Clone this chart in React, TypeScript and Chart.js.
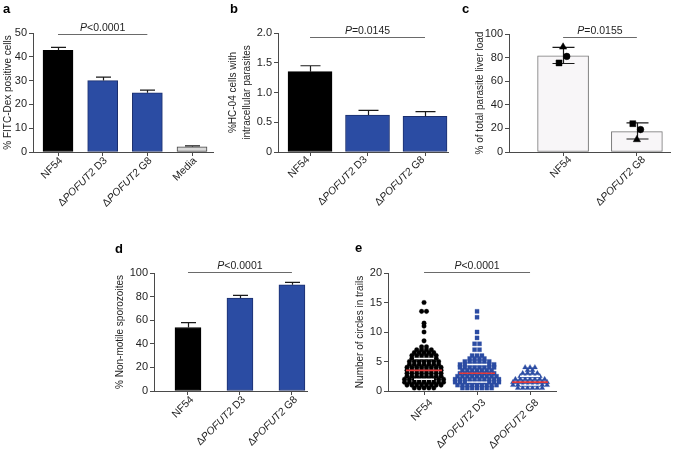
import React, { useEffect, useRef } from 'react';
import { Chart, registerables } from 'chart.js';

Chart.register(...registerables);

const FONT = '"Liberation Sans", Arial, Helvetica, sans-serif';
Chart.defaults.font.family = FONT;

const AXIS = '#4a4a4a';
const TEXT = '#1e1e1e';
const BLUE = '#2b4ca3';
const BLUE_EDGE = '#1b2f6e';
const ERR = '#1a1a1a';

// ---------- Panel a ----------
const aCategories = ['NF54', 'ΔPOFUT2 D3', 'ΔPOFUT2 G8', 'Media'];
const aValues = [42.7, 30.0, 24.9, 2.2];
const aErrorTop = [44.0, 31.5, 26.0, 2.6];
const aTicks = [0, 10, 20, 30, 40, 50];
const aTickLabels = ['0', '10', '20', '30', '40', '50'];
const aTitle = '% FITC-Dex positive cells';
const aP = 'P<0.0001';

// ---------- Panel b ----------
const bCategories = ['NF54', 'ΔPOFUT2 D3', 'ΔPOFUT2 G8'];
const bValues = [1.35, 0.62, 0.6];
const bErrorTop = [1.45, 0.7, 0.68];
const bTicks = [0, 0.5, 1.0, 1.5, 2.0];
const bTickLabels = ['0', '0.5', '1.0', '1.5', '2.0'];
const bTitle = ['%HC-04 cells with', 'intracellular parasites'];
const bP = 'P=0.0145';

// ---------- Panel c ----------
const cCategories = ['NF54', 'ΔPOFUT2 G8'];
const cValues = [81.5, 17.2];
const cErrorTop = [88.7, 24.6];
const cErrorLow = [75.0, 11.0];
const cReplicateTriangle = [89, 10.5];
const cReplicateCircle = [81, 19];
const cReplicateSquare = [75.5, 24];
const cTicks = [0, 20, 40, 60, 80, 100];
const cTickLabels = ['0', '20', '40', '60', '80', '100'];
const cTitle = '% of total parasite liver load';
const cP = 'P=0.0155';

// ---------- Panel d ----------
const dCategories = ['NF54', 'ΔPOFUT2 D3', 'ΔPOFUT2 G8'];
const dValues = [53.8, 78.8, 90.0];
const dErrorTop = [58.0, 81.0, 92.0];
const dTicks = [0, 20, 40, 60, 80, 100];
const dTickLabels = ['0', '20', '40', '60', '80', '100'];
const dTitle = '% Non-motile sporozoites';
const dP = 'P<0.0001';

// ---------- Panel e ----------
const eCategories = ['NF54', 'ΔPOFUT2 D3', 'ΔPOFUT2 G8'];
const eNF54 = [
  15, 13.5, 13.5, 11.5, 11, 10, 8.5,
  7.5, 7.5, 7, 7, 7, 7, 6.5, 6.5, 6.5, 6.5, 6.5,
  6, 6, 6, 6, 6, 6, 5.5, 5.5, 5.5, 5.5, 5.5, 5.5,
  5, 5, 5, 5, 5, 5, 5,
  4.5, 4.5, 4.5, 4.5, 4.5, 4.5, 4.5,
  4, 4, 4, 4, 4, 4, 4, 4,
  3.5, 3.5, 3.5, 3.5, 3.5, 3.5, 3.5, 3.5,
  3, 3, 3, 3, 3, 3, 3, 3,
  2.5, 2.5, 2.5, 2.5, 2.5, 2.5, 2.5, 2.5,
  2, 2, 2, 2, 2, 2, 2, 2, 2,
  1.5, 1.5, 1.5, 1.5, 1.5, 1.5, 1.5, 1.5, 1.5,
  1, 1, 1, 1, 1, 1, 1, 1,
  0.5, 0.5, 0.5, 0.5, 0.5,
];
const eD3 = [
  13.5, 12.5, 10, 9, 8, 8, 7, 7, 6, 6, 6, 5.5, 5.5, 5.5, 5.5,
  5, 5, 5, 5, 5, 5,
  4.5, 4.5, 4.5, 4.5, 4.5, 4.5, 4.5, 4.5,
  4, 4, 4, 4, 4, 4, 4, 4,
  3.5, 3.5, 3.5, 3.5, 3.5, 3.5, 3.5,
  3, 3, 3, 3, 3, 3, 3, 3,
  2.5, 2.5, 2.5, 2.5, 2.5, 2.5, 2.5, 2.5, 2.5,
  2, 2, 2, 2, 2, 2, 2, 2, 2, 2,
  1.5, 1.5, 1.5, 1.5, 1.5, 1.5, 1.5, 1.5, 1.5, 1.5,
  1, 1, 1, 1, 1, 1, 1, 1, 1,
  0.5, 0.5, 0.5, 0.5, 0.5, 0.5, 0.5,
];
const eG8 = [
  4, 4, 4, 3.5, 3.5, 3, 3, 3, 3,
  2.5, 2.5, 2.5, 2.5, 2.5,
  2, 2, 2, 2, 2, 2, 2,
  1.5, 1.5, 1.5, 1.5, 1.5, 1.5, 1.5, 1.5,
  1, 1, 1, 1, 1, 1, 1, 1,
  0.5, 0.5, 0.5, 0.5, 0.5, 0.5,
];
const eTicks = [0, 5, 10, 15, 20];
const eTickLabels = ['0', '5', '10', '15', '20'];
const eTitle = 'Number of circles in trails';
const eP = 'P<0.0001';

// ---------- layout (canvas boxes, plot areas) ----------
type Geo = {
  left: number; top: number; width: number; height: number;
  plot: { l: number; t: number; r: number; b: number };
  xMin: number; xMax: number;
  panel: string; panelPos: [number, number];
  labelOffset: [number, number];
  titlePad: number;
};

const GEO: Record<string, Geo> = {
  a: { left: 0, top: 0, width: 225, height: 230, plot: { l: 33, t: 33, r: 213, b: 152 }, xMin: -0.56, xMax: 3.47, panel: 'a', panelPos: [3, 13], labelOffset: [3, 7], titlePad: 1 },
  b: { left: 225, top: 0, width: 225, height: 230, plot: { l: 53, t: 33, r: 223, b: 152 }, xMin: -0.557, xMax: 2.4, panel: 'b', panelPos: [5, 13], labelOffset: [-2, 6], titlePad: 1 },
  c: { left: 450, top: 0, width: 225, height: 230, plot: { l: 59, t: 34, r: 223, b: 152 }, xMin: -0.733, xMax: 1.453, panel: 'c', panelPos: [12, 13], labelOffset: [7, 6], titlePad: 23 },
  d: { left: 100, top: 230, width: 220, height: 222, plot: { l: 54, t: 43, r: 207, b: 161 }, xMin: -0.654, xMax: 2.29, panel: 'd', panelPos: [15, 23], labelOffset: [4, 7], titlePad: 13 },
  e: { left: 320, top: 230, width: 250, height: 222, plot: { l: 68, t: 43, r: 236, b: 161 }, xMin: -0.68, xMax: 2.49, panel: 'e', panelPos: [35, 22], labelOffset: [7, 10], titlePad: 33 },
};

// ---------- helpers ----------
type Part = { t: string; it: boolean };

function labelParts(s: string): Part[] {
  return s.split(/(POFUT2)/).filter((p) => p.length > 0).map((p) => ({ t: p, it: p === 'POFUT2' }));
}
function pParts(s: string): Part[] {
  return [{ t: s.slice(0, 1), it: true }, { t: s.slice(1), it: false }];
}
function drawRich(ctx: CanvasRenderingContext2D, parts: Part[], size: number, align: 'right' | 'center', x: number, y: number, baseline: CanvasTextBaseline) {
  const fonts = parts.map((p) => `${p.it ? 'italic ' : ''}${size}px ${FONT}`);
  const widths = parts.map((p, i) => { ctx.font = fonts[i]; return ctx.measureText(p.t).width; });
  const total = widths.reduce((s, w) => s + w, 0);
  let cx = align === 'right' ? x - total : x - total / 2;
  ctx.textAlign = 'left';
  ctx.textBaseline = baseline;
  parts.forEach((p, i) => { ctx.font = fonts[i]; ctx.fillText(p.t, cx, y); cx += widths[i]; });
}

function quantile(values: number[], q: number) {
  const s = [...values].sort((a, b) => a - b);
  const pos = (s.length - 1) * q;
  const lo = Math.floor(pos), hi = Math.ceil(pos);
  return s[lo] + (s[hi] - s[lo]) * (pos - lo);
}

function swarm(values: number[], center: number, step: number) {
  const counts = new Map<number, number>();
  values.forEach((v) => counts.set(v, (counts.get(v) || 0) + 1));
  const seen = new Map<number, number>();
  return values.map((v) => {
    const n = counts.get(v)!;
    const k = seen.get(v) || 0;
    seen.set(v, k + 1);
    return { x: center + (k - (n - 1) / 2) * step, y: v };
  });
}

type Overlay = {
  geo: Geo;
  categories: string[];
  pText: string; pLevel: number; pFrom: number; pTo: number;
  bars?: number[]; errTop?: number[]; errLow?: number[]; cap?: number;
  groups?: number[][];
};

function overlayPlugin(o: Overlay) {
  return {
    id: 'overlay',
    afterDatasetDraw(chart: any, args: any) {
      if (args.index !== 0 || !o.errTop || !o.bars) return;
      const ctx: CanvasRenderingContext2D = chart.ctx;
      const xs = chart.scales.x, ys = chart.scales.y;
      const cap = o.cap || 14;
      ctx.save();
      ctx.strokeStyle = ERR;
      ctx.lineWidth = 1.2;
      o.errTop.forEach((hi, i) => {
        const px = Math.round(xs.getPixelForValue(i)) + 0.5;
        const top = ys.getPixelForValue(hi);
        const bottom = ys.getPixelForValue(o.errLow ? o.errLow[i] : o.bars![i]);
        ctx.beginPath();
        ctx.moveTo(px, top); ctx.lineTo(px, bottom);
        ctx.moveTo(px - cap / 2, top); ctx.lineTo(px + cap / 2, top);
        if (o.errLow) { ctx.moveTo(px - cap / 2, bottom); ctx.lineTo(px + cap / 2, bottom); }
        ctx.stroke();
      });
      ctx.restore();
    },
    afterDatasetsDraw(chart: any) {
      if (!o.groups) return;
      const ctx: CanvasRenderingContext2D = chart.ctx;
      const xs = chart.scales.x, ys = chart.scales.y;
      ctx.save();
      o.groups.forEach((g, i) => {
        const px = xs.getPixelForValue(i);
        const q1 = ys.getPixelForValue(quantile(g, 0.25));
        const q3 = ys.getPixelForValue(quantile(g, 0.75));
        const med = ys.getPixelForValue(quantile(g, 0.5));
        ctx.strokeStyle = '#ffffff';
        ctx.lineWidth = 1.4;
        ctx.beginPath();
        ctx.moveTo(px - 10, q1); ctx.lineTo(px + 10, q1);
        ctx.moveTo(px - 10, q3); ctx.lineTo(px + 10, q3);
        ctx.stroke();
        ctx.strokeStyle = '#e33a3a';
        ctx.lineWidth = 1.6;
        ctx.beginPath();
        ctx.moveTo(px - 18, med); ctx.lineTo(px + 18, med);
        ctx.stroke();
      });
      ctx.restore();
    },
    afterDraw(chart: any) {
      const ctx: CanvasRenderingContext2D = chart.ctx;
      const xs = chart.scales.x, ys = chart.scales.y;
      const area = chart.chartArea;
      ctx.save();
      ctx.fillStyle = TEXT;
      // category labels, rotated 45 degrees
      o.categories.forEach((c, i) => {
        const px = xs.getPixelForValue(i) + o.geo.labelOffset[0];
        const py = area.bottom + o.geo.labelOffset[1];
        ctx.save();
        ctx.translate(px, py);
        ctx.rotate(-Math.PI / 4);
        drawRich(ctx, labelParts(c), 10.5, 'right', 0, 0, 'middle');
        ctx.restore();
      });
      // significance line
      const ly = Math.round(ys.getPixelForValue(o.pLevel)) + 0.5;
      const x1 = xs.getPixelForValue(o.pFrom), x2 = xs.getPixelForValue(o.pTo);
      ctx.strokeStyle = '#6a6a6a';
      ctx.lineWidth = 1.1;
      ctx.beginPath(); ctx.moveTo(x1, ly); ctx.lineTo(x2, ly); ctx.stroke();
      drawRich(ctx, pParts(o.pText), 10.5, 'center', (x1 + x2) / 2, ly - 4, 'alphabetic');
      // panel letter
      ctx.font = `bold 13px ${FONT}`;
      ctx.textAlign = 'left';
      ctx.textBaseline = 'alphabetic';
      ctx.fillStyle = '#000';
      ctx.fillText(o.geo.panel, o.geo.panelPos[0], o.geo.panelPos[1]);
      ctx.restore();
    },
  };
}

function baseOptions(geo: Geo, cats: string[], yMin: number, yMax: number, ticks: number[], tickLabels: string[], title: string | string[]) {
  const grid = { display: true, drawOnChartArea: false, drawTicks: true, tickLength: 4, color: AXIS, lineWidth: 1, offset: false };
  const border = { display: true, color: AXIS, width: 1 };
  return {
    responsive: false,
    animation: false as const,
    events: [] as any[],
    layout: { padding: { left: 0, top: geo.plot.t, right: geo.width - geo.plot.r, bottom: 0 } },
    plugins: { legend: { display: false }, tooltip: { enabled: false } },
    scales: {
      x: {
        type: 'linear' as const,
        min: geo.xMin,
        max: geo.xMax,
        offset: false,
        afterBuildTicks: (s: any) => { s.ticks = cats.map((_, i) => ({ value: i })); },
        afterFit: (s: any) => { s.height = geo.height - geo.plot.b; },
        ticks: { autoSkip: false, callback: () => '', padding: 0 },
        grid,
        border,
      },
      y: {
        type: 'linear' as const,
        min: yMin,
        max: yMax,
        afterBuildTicks: (s: any) => { s.ticks = ticks.map((v) => ({ value: v })); },
        afterFit: (s: any) => { s.width = geo.plot.l; },
        ticks: { autoSkip: false, callback: (_v: any, i: number) => tickLabels[i], color: TEXT, font: { size: 11 }, padding: 2 },
        grid,
        border,
        title: { display: true, text: title, color: TEXT, font: { size: 10, lineHeight: 1.4 }, padding: { top: geo.titlePad, bottom: 0 } },
      },
    },
  };
}

function barDataset(values: number[], fills: string[], edges: string[], thickness: number) {
  return {
    type: 'bar' as const,
    data: values.map((v, i) => ({ x: i, y: v })),
    backgroundColor: fills,
    borderColor: edges,
    borderWidth: 1,
    borderSkipped: false,
    barThickness: thickness,
    order: 2,
  };
}

function makeA() {
  const g = GEO.a;
  return {
    type: 'bar' as const,
    data: { datasets: [barDataset(aValues, ['#000000', BLUE, BLUE, '#d9d9d9'], ['#000000', BLUE_EDGE, BLUE_EDGE, '#444444'], 30)] },
    options: baseOptions(g, aCategories, 0, 50, aTicks, aTickLabels, aTitle),
    plugins: [overlayPlugin({ geo: g, categories: aCategories, pText: aP, pLevel: 49.6, pFrom: 0, pTo: 2, bars: aValues, errTop: aErrorTop, cap: 15 })],
  };
}

function makeB() {
  const g = GEO.b;
  return {
    type: 'bar' as const,
    data: { datasets: [barDataset(bValues, ['#000000', BLUE, BLUE], ['#000000', BLUE_EDGE, BLUE_EDGE], 44)] },
    options: baseOptions(g, bCategories, 0, 2, bTicks, bTickLabels, bTitle),
    plugins: [overlayPlugin({ geo: g, categories: bCategories, pText: bP, pLevel: 1.93, pFrom: 0, pTo: 2, bars: bValues, errTop: bErrorTop, cap: 20 })],
  };
}

function replicate(values: number[], style: string, shift: number, radius: number) {
  return {
    type: 'scatter' as const,
    data: values.map((v, i) => ({ x: i + shift, y: v })),
    pointStyle: style,
    pointRadius: radius,
    backgroundColor: '#000000',
    borderColor: '#000000',
    borderWidth: 0.5,
    order: 1,
  };
}

function makeC() {
  const g = GEO.c;
  return {
    type: 'bar' as const,
    data: {
      datasets: [
        barDataset(cValues, ['#f8f6f8', '#f8f6f8'], ['#777777', '#777777'], 51) as any,
        replicate(cReplicateTriangle, 'triangle', 0, 4.2),
        replicate(cReplicateCircle, 'circle', 0.05, 3.3),
        replicate(cReplicateSquare, 'rect', -0.055, 4.2),
      ],
    },
    options: baseOptions(g, cCategories, 0, 100, cTicks, cTickLabels, cTitle),
    plugins: [overlayPlugin({ geo: g, categories: cCategories, pText: cP, pLevel: 97.7, pFrom: 0, pTo: 1, bars: cValues, errTop: cErrorTop, errLow: cErrorLow, cap: 22 })],
  };
}

function makeD() {
  const g = GEO.d;
  return {
    type: 'bar' as const,
    data: { datasets: [barDataset(dValues, ['#000000', BLUE, BLUE], ['#000000', BLUE_EDGE, BLUE_EDGE], 26)] },
    options: baseOptions(g, dCategories, 0, 100, dTicks, dTickLabels, dTitle),
    plugins: [overlayPlugin({ geo: g, categories: dCategories, pText: dP, pLevel: 100.8, pFrom: 0, pTo: 2, bars: dValues, errTop: dErrorTop, cap: 15 })],
  };
}

function makeE() {
  const g = GEO.e;
  const step = 0.092;
  const groups = [eNF54, eD3, eG8];
  const styles = ['circle', 'rect', 'triangle'];
  const radii = [2.3, 2.9, 3.0];
  const colors = ['#000000', BLUE, BLUE];
  return {
    type: 'scatter' as const,
    data: {
      datasets: groups.map((vals, i) => ({
        data: swarm(vals, i, step),
        pointStyle: styles[i],
        pointRadius: radii[i],
        backgroundColor: colors[i],
        borderColor: colors[i],
        borderWidth: 0.3,
      })),
    },
    options: baseOptions(g, eCategories, 0, 20, eTicks, eTickLabels, eTitle),
    plugins: [overlayPlugin({ geo: g, categories: eCategories, pText: eP, pLevel: 20.2, pFrom: 0, pTo: 2, groups })],
  };
}

function ChartPanel({ geo, make }: { geo: Geo; make: () => any }) {
  const ref = useRef<HTMLCanvasElement>(null);
  useEffect(() => {
    const chart = new Chart(ref.current as HTMLCanvasElement, make());
    return () => chart.destroy();
  }, []);
  return (
    <canvas
      ref={ref}
      width={geo.width}
      height={geo.height}
      style={{ position: 'absolute', left: geo.left, top: geo.top, width: geo.width, height: geo.height }}
    />
  );
}

export default function App() {
  return (
    <div style={{ position: 'absolute', left: 0, top: 0, width: 675, height: 452, background: '#ffffff', overflow: 'hidden' }}>
      <ChartPanel geo={GEO.a} make={makeA} />
      <ChartPanel geo={GEO.b} make={makeB} />
      <ChartPanel geo={GEO.c} make={makeC} />
      <ChartPanel geo={GEO.d} make={makeD} />
      <ChartPanel geo={GEO.e} make={makeE} />
    </div>
  );
}
